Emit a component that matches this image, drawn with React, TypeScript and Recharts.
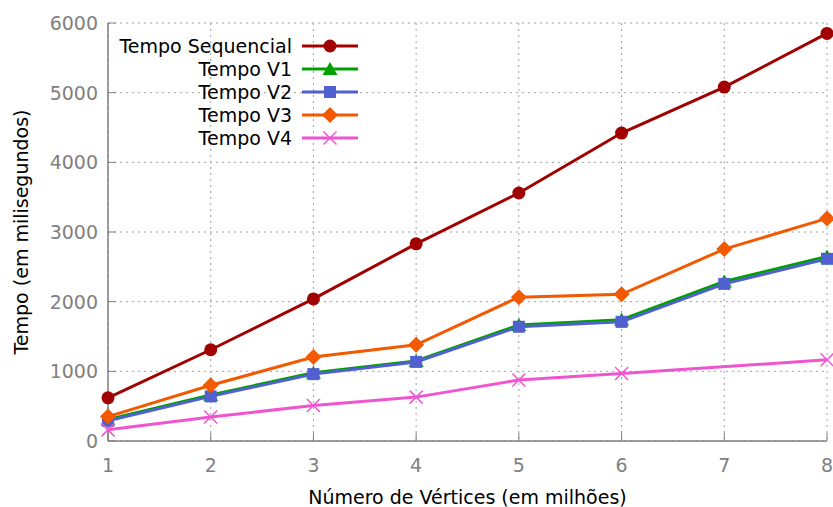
import React from "react";
import { LineChart, Line, XAxis, YAxis, CartesianGrid } from "recharts";

const vertices = [1, 2, 3, 4, 5, 6, 7, 8];
const tempoSequencial = [620, 1310, 2040, 2830, 3560, 4420, 5080, 5850];
const tempoV1 = [310, 660, 980, 1150, 1665, 1740, 2290, 2650];
const tempoV2 = [290, 640, 960, 1135, 1640, 1710, 2255, 2615];
const tempoV3 = [350, 800, 1205, 1380, 2065, 2105, 2755, 3195];
const tempoV4: (number | null)[] = [160, 345, 510, 630, 875, 970, null, 1165];
const yTicks = [0, 1000, 2000, 3000, 4000, 5000, 6000];

const data = vertices.map((v, i) => ({
  v,
  seq: tempoSequencial[i],
  v1: tempoV1[i],
  v2: tempoV2[i],
  v3: tempoV3[i],
  v4: tempoV4[i],
}));

const FONT = "'DejaVu Sans', sans-serif";
const AXIS = "#808080";
const FS = 19;

type Shape = "circle" | "triangle" | "square" | "diamond" | "cross";

const series: { key: string; name: string; color: string; shape: Shape }[] = [
  { key: "seq", name: "Tempo Sequencial", color: "#a00000", shape: "circle" },
  { key: "v1", name: "Tempo V1", color: "#00a000", shape: "triangle" },
  { key: "v2", name: "Tempo V2", color: "#5060d0", shape: "square" },
  { key: "v3", name: "Tempo V3", color: "#f25900", shape: "diamond" },
  { key: "v4", name: "Tempo V4", color: "#f055d0", shape: "cross" },
];

function marker(shape: Shape, cx: number, cy: number, color: string, key?: string) {
  switch (shape) {
    case "circle":
      return <circle key={key} cx={cx} cy={cy} r={6.5} fill={color} />;
    case "triangle":
      return (
        <polygon
          key={key}
          points={`${cx},${cy - 7} ${cx - 7.5},${cy + 6} ${cx + 7.5},${cy + 6}`}
          fill={color}
        />
      );
    case "square":
      return <rect key={key} x={cx - 6} y={cy - 6} width={12} height={12} fill={color} />;
    case "diamond":
      return (
        <polygon
          key={key}
          points={`${cx},${cy - 8} ${cx + 8},${cy} ${cx},${cy + 8} ${cx - 8},${cy}`}
          fill={color}
        />
      );
    default:
      return (
        <g key={key} stroke={color} strokeWidth={1.5}>
          <line x1={cx - 6.5} y1={cy - 6.5} x2={cx + 6.5} y2={cy + 6.5} />
          <line x1={cx - 6.5} y1={cy + 6.5} x2={cx + 6.5} y2={cy - 6.5} />
        </g>
      );
  }
}

const renderDot = (shape: Shape, color: string) => (props: any) => {
  const { cx, cy, index, value } = props;
  if (value === null || value === undefined || cx == null || cy == null) {
    return <g key={`e-${index}`} />;
  }
  return marker(shape, cx, cy, color, `d-${shape}-${index}`);
};

const XTick = (props: any) => {
  const { x, payload } = props;
  return (
    <g>
      <line x1={x} y1={441} x2={x} y2={433} stroke={AXIS} strokeWidth={1} />
      <text x={x} y={472} textAnchor="middle" fill={AXIS} fontSize={FS} fontFamily={FONT}>
        {payload.value}
      </text>
    </g>
  );
};

const YTick = (props: any) => {
  const { y, payload } = props;
  return (
    <g>
      <line x1={108} y1={y} x2={116} y2={y} stroke={AXIS} strokeWidth={1} />
      <text x={98} y={y + 7} textAnchor="end" fill={AXIS} fontSize={FS} fontFamily={FONT}>
        {payload.value}
      </text>
    </g>
  );
};

function LegendBox() {
  return (
    <svg
      width={370}
      height={160}
      style={{ position: "absolute", left: 0, top: 0, pointerEvents: "none" }}
    >
      {series.map((s, i) => {
        const cy = 46 + i * 23;
        return (
          <g key={s.key}>
            <text x={292} y={cy + 7} textAnchor="end" fontSize={FS} fontFamily={FONT} fill="#000">
              {s.name}
            </text>
            <line x1={302} y1={cy} x2={358} y2={cy} stroke={s.color} strokeWidth={3} />
            {marker(s.shape, 330, cy, s.color)}
          </g>
        );
      })}
    </svg>
  );
}

export default function App() {
  return (
    <div style={{ position: "absolute", left: 0, top: 0, width: 833, height: 507, background: "#fff" }}>
      <LineChart
        width={833}
        height={507}
        data={data}
        margin={{ top: 23, right: 6, bottom: 0, left: 0 }}
      >
        <CartesianGrid stroke="#a0a0a0" strokeDasharray="2 4" strokeWidth={1} />
        <XAxis
          dataKey="v"
          type="number"
          domain={[1, 8]}
          ticks={vertices}
          height={66}
          stroke={AXIS}
          strokeWidth={1.5}
          tickLine={false}
          tick={<XTick />}
          label={{
            value: "Número de Vértices (em milhões)",
            position: "insideBottom",
            offset: 3,
            fill: "#000",
            fontSize: FS,
            fontFamily: FONT,
          }}
        />
        <YAxis
          type="number"
          domain={[0, 6000]}
          ticks={yTicks}
          width={108}
          stroke={AXIS}
          strokeWidth={1.5}
          tickLine={false}
          tick={<YTick />}
          label={{
            value: "Tempo (em milisegundos)",
            angle: -90,
            position: "insideLeft",
            offset: 21,
            fill: "#000",
            fontSize: FS,
            fontFamily: FONT,
            style: { textAnchor: "middle" },
          }}
        />
        {series.map((s) => (
          <Line
            key={s.key}
            type="linear"
            dataKey={s.key}
            name={s.name}
            stroke={s.color}
            strokeWidth={3}
            dot={renderDot(s.shape, s.color)}
            activeDot={false}
            connectNulls
            isAnimationActive={false}
          />
        ))}
      </LineChart>
      <LegendBox />
    </div>
  );
}
